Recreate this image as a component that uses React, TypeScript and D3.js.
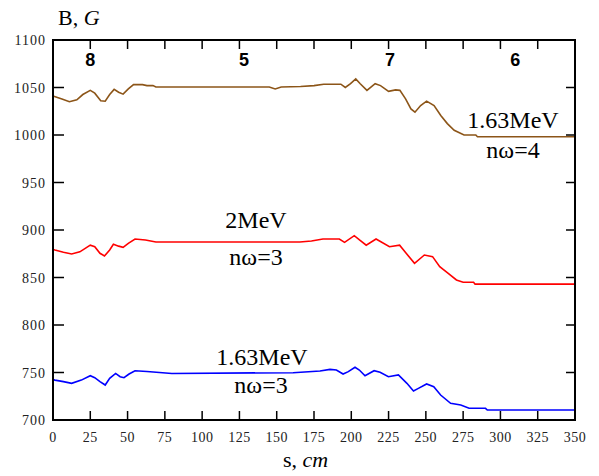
import React from "react";
import * as d3 from "d3";

// field profiles B(s)
const brownS = [0, 1, 6, 11, 16, 20, 25, 28, 32, 35, 38, 41, 44, 47, 50.5, 54, 60, 63, 67, 69, 145, 149, 153, 166, 175, 181.5, 193, 196, 199.5, 203, 206, 210.5, 216, 219.6, 225, 229.7, 232.6, 236.4, 240, 242.7, 246.5, 250.5, 255.5, 260, 264.4, 269, 275.6, 283.5, 284.6, 350];
const brownB = [1041, 1040.5, 1038, 1035, 1037, 1042.6, 1047, 1044, 1036, 1035.5, 1042.6, 1048, 1045, 1043, 1048.6, 1053, 1053, 1052, 1052, 1050.5, 1050.5, 1048.5, 1050.5, 1051, 1052, 1053.5, 1053.5, 1050, 1054, 1059, 1054, 1047, 1054, 1052, 1046, 1047.5, 1047, 1038, 1027.5, 1024, 1031, 1035.6, 1031, 1020.5, 1012, 1005, 1000, 1000, 998.2, 998.2];

const redS = [0, 1.3, 7, 12.5, 18, 25, 28, 31.5, 34.5, 38, 40.5, 44, 47, 50.5, 55, 62, 69, 165.5, 173.3, 181, 192, 195.5, 202, 205.5, 210, 216.6, 225.6, 232.4, 236.8, 242.4, 249, 254.5, 259.3, 265, 270.5, 275, 282, 283, 350];
const redB = [879.5, 878.9, 876.5, 874.7, 877, 884, 882.4, 875.5, 872.6, 879, 885, 883, 881.8, 886, 890.5, 889.5, 887.4, 887.4, 888.4, 890.5, 890.5, 887, 894, 889.5, 884, 890.5, 882.4, 884, 875.5, 865, 873.7, 872, 861.4, 854.4, 847.4, 845, 845, 843, 843];

const blueS = [0, 1.3, 7, 12.5, 19, 25, 28, 31.5, 35, 38, 42, 45, 47.6, 51, 55, 63, 79.7, 161, 179, 185.7, 190, 194.5, 198, 202.5, 205.4, 209.2, 215.3, 219.3, 224.9, 231.6, 237.3, 241.7, 245, 250.5, 255.3, 259.9, 266.6, 273.4, 279, 290, 291.2, 350];
const blueB = [742.5, 742, 740.4, 738.6, 742, 746.6, 744.5, 740.4, 736.8, 743.9, 749, 745.6, 744.5, 748.4, 751.9, 751, 749, 749.8, 751.6, 753.3, 752.6, 748.4, 750.9, 755.5, 752.6, 746.6, 751.9, 750.2, 745.6, 747.4, 738.6, 730.5, 733.3, 737.9, 735, 726.3, 717.6, 715.8, 712.3, 712.3, 710.5, 710.5];

const xTicks = d3.range(0, 351, 25);
const yTicks = d3.range(700, 1101, 50);
const regionLabels = [
  { s: 25, text: "8" },
  { s: 128, text: "5" },
  { s: 226, text: "7" },
  { s: 310, text: "6" },
];

const W = 599;
const H = 476;
const m = { left: 53, right: 24, top: 40, bottom: 56 };

const App = () => {
  const x = d3.scaleLinear().domain([0, 350]).range([m.left, W - m.right]);
  const y = d3.scaleLinear().domain([700, 1100]).range([H - m.bottom, m.top]);
  const line = d3
    .line<[number, number]>()
    .x((d) => x(d[0]))
    .y((d) => y(d[1]));
  const zip = (s: number[], b: number[]) => s.map((v, i) => [v, b[i]] as [number, number]);

  const series = [
    { color: "#8c5518", data: zip(brownS, brownB) },
    { color: "#ff0000", data: zip(redS, redB) },
    { color: "#0000ff", data: zip(blueS, blueB) },
  ];

  const x0 = x(0), x1 = x(350), y0 = y(700), y1 = y(1100);
  const tk = 9;
  const serif = "'Liberation Serif', 'Times New Roman', serif";

  return (
    <svg width={W} height={H} style={{ position: "absolute", left: 0, top: 0, background: "#fff" }}>
      {series.map((sr, i) => (
        <path key={i} d={line(sr.data) ?? ""} fill="none" stroke={sr.color} strokeWidth={1.6} />
      ))}
      {/* frame */}
      <rect x={x0} y={y1} width={x1 - x0} height={y0 - y1} fill="none" stroke="#000" strokeWidth={2} />
      {xTicks.map((t) => (
        <g key={"x" + t}>
          <line x1={x(t)} x2={x(t)} y1={y0} y2={y0 - tk} stroke="#000" strokeWidth={1.5} />
          <line x1={x(t)} x2={x(t)} y1={y1} y2={y1 + tk} stroke="#000" strokeWidth={1.5} />
          <text x={x(t)} y={y0 + 22} textAnchor="middle" fontFamily={serif} fontSize={14} fill="#222" letterSpacing={0.5}>
            {t}
          </text>
        </g>
      ))}
      {yTicks.map((t) => (
        <g key={"y" + t}>
          <line x1={x0} x2={x0 + tk + 2} y1={y(t)} y2={y(t)} stroke="#000" strokeWidth={1.5} />
          <line x1={x1} x2={x1 - tk} y1={y(t)} y2={y(t)} stroke="#000" strokeWidth={1.5} />
          <text x={x0 - 7} y={y(t) + 5} textAnchor="end" fontFamily={serif} fontSize={14} fill="#222" letterSpacing={1}>
            {t}
          </text>
        </g>
      ))}
      {regionLabels.map((r) => (
        <text key={r.text} x={x(r.s)} y={66} textAnchor="middle" fontFamily="'Liberation Sans', Arial, sans-serif" fontWeight="bold" fontSize={18}>
          {r.text}
        </text>
      ))}
      {/* axis titles */}
      <text x={58} y={25} fontFamily={serif} fontSize={22}>
        B, <tspan fontStyle="italic">G</tspan>
      </text>
      <text x={283} y={467} fontFamily={serif} fontSize={22}>
        s, <tspan fontStyle="italic">cm</tspan>
      </text>
      {/* curve labels */}
      <g fontFamily={serif} fontSize={24} textAnchor="middle" fill="#000">
        <text x={513} y={128}>1.63MeV</text>
        <text x={513} y={158}>nω=4</text>
        <text x={256} y={228}>2MeV</text>
        <text x={256} y={265}>nω=3</text>
        <text x={262} y={365}>1.63MeV</text>
        <text x={261} y={393}>nω=3</text>
      </g>
    </svg>
  );
};

export default App;
